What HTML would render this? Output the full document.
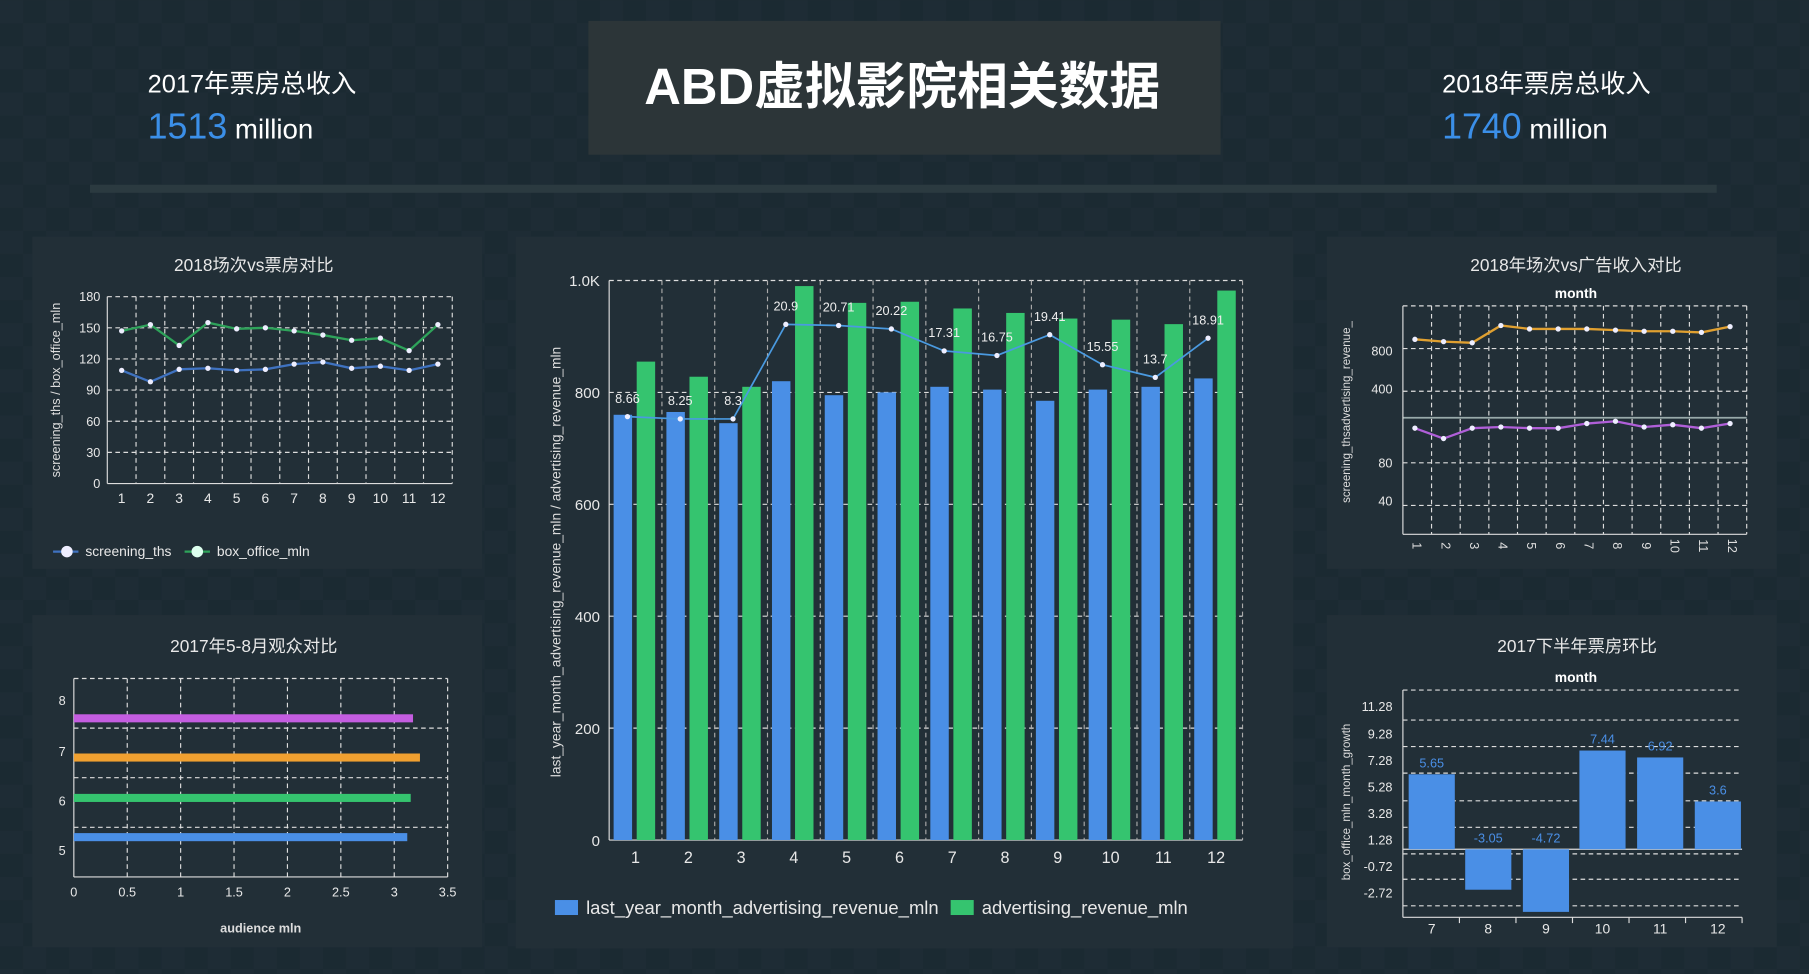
<!DOCTYPE html>
<html><head><meta charset="utf-8"><style>
html,body{margin:0;padding:0;background:#1c2a32;overflow:hidden}
svg{display:block}
text{font-family:"Liberation Sans","Noto Sans CJK SC",sans-serif}
</style></head><body>
<svg id="s" width="1809" height="974" viewBox="0 0 1568 844" xmlns="http://www.w3.org/2000/svg">
<defs>
<pattern id="grid" width="40" height="40" patternUnits="userSpaceOnUse"><rect width="40" height="40" fill="#1b2a32"/><rect width="20" height="20" fill="#1e2c35"/><rect x="20" y="20" width="20" height="20" fill="#1e2c35"/></pattern>
</defs>
<rect width="1568" height="844" fill="url(#grid)"/>
<rect x="510" y="18" width="548" height="116" fill="#2c3538"/>
<text x="782" y="90" fill="#fff" font-size="44" font-weight="bold" text-anchor="middle">ABD虚拟影院相关数据</text>
<text x="128" y="80" fill="#fff" font-size="22">2017年票房总收入</text>
<text x="128" y="120" font-size="31" fill="#3b8fe8">1513<tspan fill="#fff" font-size="24"> million</tspan></text>
<text x="1250" y="80" fill="#fff" font-size="22">2018年票房总收入</text>
<text x="1250" y="120" font-size="31" fill="#3b8fe8">1740<tspan fill="#fff" font-size="24"> million</tspan></text>
<rect x="78" y="160" width="1410" height="7" fill="#2b3a40"/>
<g fill="#222f37">
<rect x="28" y="205" width="390" height="288"/><rect x="28" y="533" width="390" height="288"/>
<rect x="447" y="205" width="674" height="617"/><rect x="1150" y="205" width="390" height="288"/><rect x="1150" y="533" width="390" height="288"/>
</g>
<g id="g"></g>
</svg>
<script>
var g=document.getElementById('g'),h='';
function L(x1,y1,x2,y2,c,w,d){h+='<line x1="'+x1+'" y1="'+y1+'" x2="'+x2+'" y2="'+y2+'" stroke="'+(c||'#ccc')+'" stroke-width="'+(w||1)+'"'+(d?' stroke-dasharray="4,3"':'')+'/>';}
function T(x,y,t,s,a,c,ex){h+='<text x="'+x+'" y="'+y+'" font-size="'+s+'" text-anchor="'+(a||'middle')+'" fill="'+(c||'#e8e8e8')+'" '+(ex||'')+'>'+t+'</text>';}
function R(x,y,w,hh,c){h+='<rect x="'+x+'" y="'+y+'" width="'+w+'" height="'+hh+'" fill="'+c+'"/>';}
function PL(pts,c,w){h+='<polyline points="'+pts.map(p=>p.join(',')).join(' ')+'" fill="none" stroke="'+c+'" stroke-width="'+(w||2)+'"/>';pts.forEach(p=>{h+='<circle cx="'+p[0]+'" cy="'+p[1]+'" r="2.3" fill="#eef"/>';});}
// left top
T(220,235,'2018场次vs票房对比',15);
var x0=93,x1=392,yb=419,yt=257;
for(var i=0;i<=6;i++){var y=yb-(yb-yt)*i/6;L(x0,y,x1,y,'#ddd',1,i>0);T(87,y+4,i*30,11,'end');}
var cw=(x1-x0)/12;for(i=1;i<=12;i++){L(x0+cw*i,yt,x0+cw*i,yb,'#ddd',1,true);T(x0+cw*(i-.5),436,i,12);}
L(x0,yt,x0,yb,'#ddd');
var gv=[147,153,133,155,149,150,147,143,138,140,128,153],bv=[109,98,110,111,109,110,115,117,111,113,109,115];
PL(gv.map((v,i)=>[x0+cw*(i+.5),yb-v*(yb-yt)/180]),'#2ea35a');
PL(bv.map((v,i)=>[x0+cw*(i+.5),yb-v*(yb-yt)/180]),'#3f72c0');
T(52,338,'screening_ths / box_office_mln',11,'middle','#ddd','transform="rotate(-90 52 338)"');
L(46,478,68,478,'#3f72c0',2);h+='<circle cx="58" cy="478" r="5" fill="#eef"/>';T(74,482,'screening_ths',12,'start');
L(160,478,182,478,'#2ea35a',2);h+='<circle cx="171" cy="478" r="5" fill="#dfe"/>';T(188,482,'box_office_mln',12,'start');
// left bottom
T(220,565,'2017年5-8月观众对比',15);
x0=64;x1=388;yt=588;yb=760;
for(i=0;i<=7;i++){var x=x0+(x1-x0)*i/7;L(x,yt,x,yb,'#ddd',1,i>0);T(x,777,(i*0.5).toString(),11);}
[588,631,674,717].forEach(y=>L(x0,y,x1,y,'#ddd',1,true));L(x0,yb,x1,yb,'#ddd');
[['8',607,'#c45de0',358,619],['7',651,'#f0a030',364,653],['6',694,'#35c46f',356,688],['5',737,'#4a8fe6',353,722]].forEach(a=>{T(57,a[1]+4,a[0],11,'end');R(x0,a[4],a[3]-x0,7,a[2]);});
T(226,808,'audience mln',11,'middle','#ddd','font-weight="bold"');
// middle
x0=528;x1=1077;yb=728;yt=243;
for(i=0;i<=5;i++){var y=yb-(yb-yt)*i/5;L(x0,y,x1,y,'#ddd',1,i>0);T(520,y+5,i==5?'1.0K':i*200,13,'end');}
cw=(x1-x0)/12;for(i=1;i<=12;i++){L(x0+cw*i,yt,x0+cw*i,yb,'#aaa',1,true);T(x0+cw*(i-.5),748,i,14);}
L(x0,yt,x0,yb,'#ddd');
var mb=[760,765,745,820,795,800,810,805,785,805,810,825],mg=[855,828,810,990,960,962,950,942,932,930,922,982];
var sc=(yb-yt)/1000;
for(i=0;i<12;i++){var c=x0+cw*(i+.5)-1;R(c-18,yb-mb[i]*sc,16,mb[i]*sc,'#4a8fe6');R(c+2,yb-mg[i]*sc,16,mg[i]*sc,'#35c46f');}
var ly=[361,363,363,281,282,285,304,308,290,316,327,293],lt=['8.66','8.25','8.3','20.9','20.71','20.22','17.31','16.75','19.41','15.55','13.7','18.91'];
var pts=ly.map((v,i)=>[x0+cw*(i+.5)-7,v]);
PL(pts,'#4a9ae0',1.5);pts.forEach((p,i)=>T(p[0],p[1]-12,lt[i],11,'middle','#eee'));
T(486,487,'last_year_month_advertising_revenue_mln / advertising_revenue_mln',12,'middle','#ddd','transform="rotate(-90 486 487)"');
R(481,780,20,13,'#4a8fe6');T(508,792,'last_year_month_advertising_revenue_mln',16,'start');
R(824,780,20,13,'#35c46f');T(851,792,'advertising_revenue_mln',16,'start');
// right top
T(1366,235,'2018年场次vs广告收入对比',15);T(1366,258,'month',12,'middle','#fff','font-weight="bold"');
x0=1216;x1=1514;yt=265;yb=463;
[265,302,339,401,438].forEach(y=>L(x0,y,x1,y,'#ddd',1,true));L(x0,362,x1,362,'#9aa',1.5);L(x0,yb,x1,yb,'#ddd');
[['800',308],['400',341],['80',405],['40',438]].forEach(a=>T(1207,a[1],a[0],11,'end'));
cw=(x1-x0)/12;for(i=0;i<=12;i++){L(x0+cw*i,yt,x0+cw*i,yb,'#ddd',1,i>0);if(i<12){var xx=x0+cw*(i+.5);T(xx,477,i+1,11,'middle','#ddd','transform="rotate(90 '+xx+' 473)"');}}
var ov=[294,296,297,282,285,285,285,286,287,287,288,283],pv=[371,380,371,370,371,371,367,365,370,368,371,367];
PL(ov.map((v,i)=>[x0+cw*(i+.5)-2,v]),'#e0a030');PL(pv.map((v,i)=>[x0+cw*(i+.5)-2,v]),'#b05fd8');
T(1170,357,'screening_thsadvertising_revenue_',10,'middle','#ddd','transform="rotate(-90 1170 357)"');
// right bottom
T(1367,565,'2017下半年票房环比',15);T(1366,591,'month',12,'middle','#fff','font-weight="bold"');
x0=1216;x1=1510;
[598,624,647,670,694,717,740,762,785].forEach(y=>L(x0,y,x1,y,'#ddd',1,true));L(x0,736,x1,736,'#ddd');L(x0,598,x0,795,'#ddd');L(x0,795,x1,795,'#ddd');
[['11.28',616],['9.28',640],['7.28',663],['5.28',686],['3.28',709],['1.28',732],['-0.72',755],['-2.72',778]].forEach(a=>T(1207,a[1],a[0],11,'end'));
var rv=[5.65,-3.05,-4.72,7.44,6.92,3.6],rx=[1221,1270,1320,1369,1419,1469];
cw=(x1-x0)/6;
rv.forEach((v,i)=>{var hh=v*11.5;R(rx[i],v>0?736-hh:736,40,Math.abs(hh),'#4a8fe6');T(rx[i]+20,v>0?730-hh:730,v,11,'middle','#4a8fe6');T(rx[i]+20,809,i+7,12);L(x0+cw*(i+1),795,x0+cw*(i+1),800,'#ddd');});
T(1170,695,'box_office_mln_month_growth',10,'middle','#ddd','transform="rotate(-90 1170 695)"');
g.innerHTML=h;
</script>
</body></html>
